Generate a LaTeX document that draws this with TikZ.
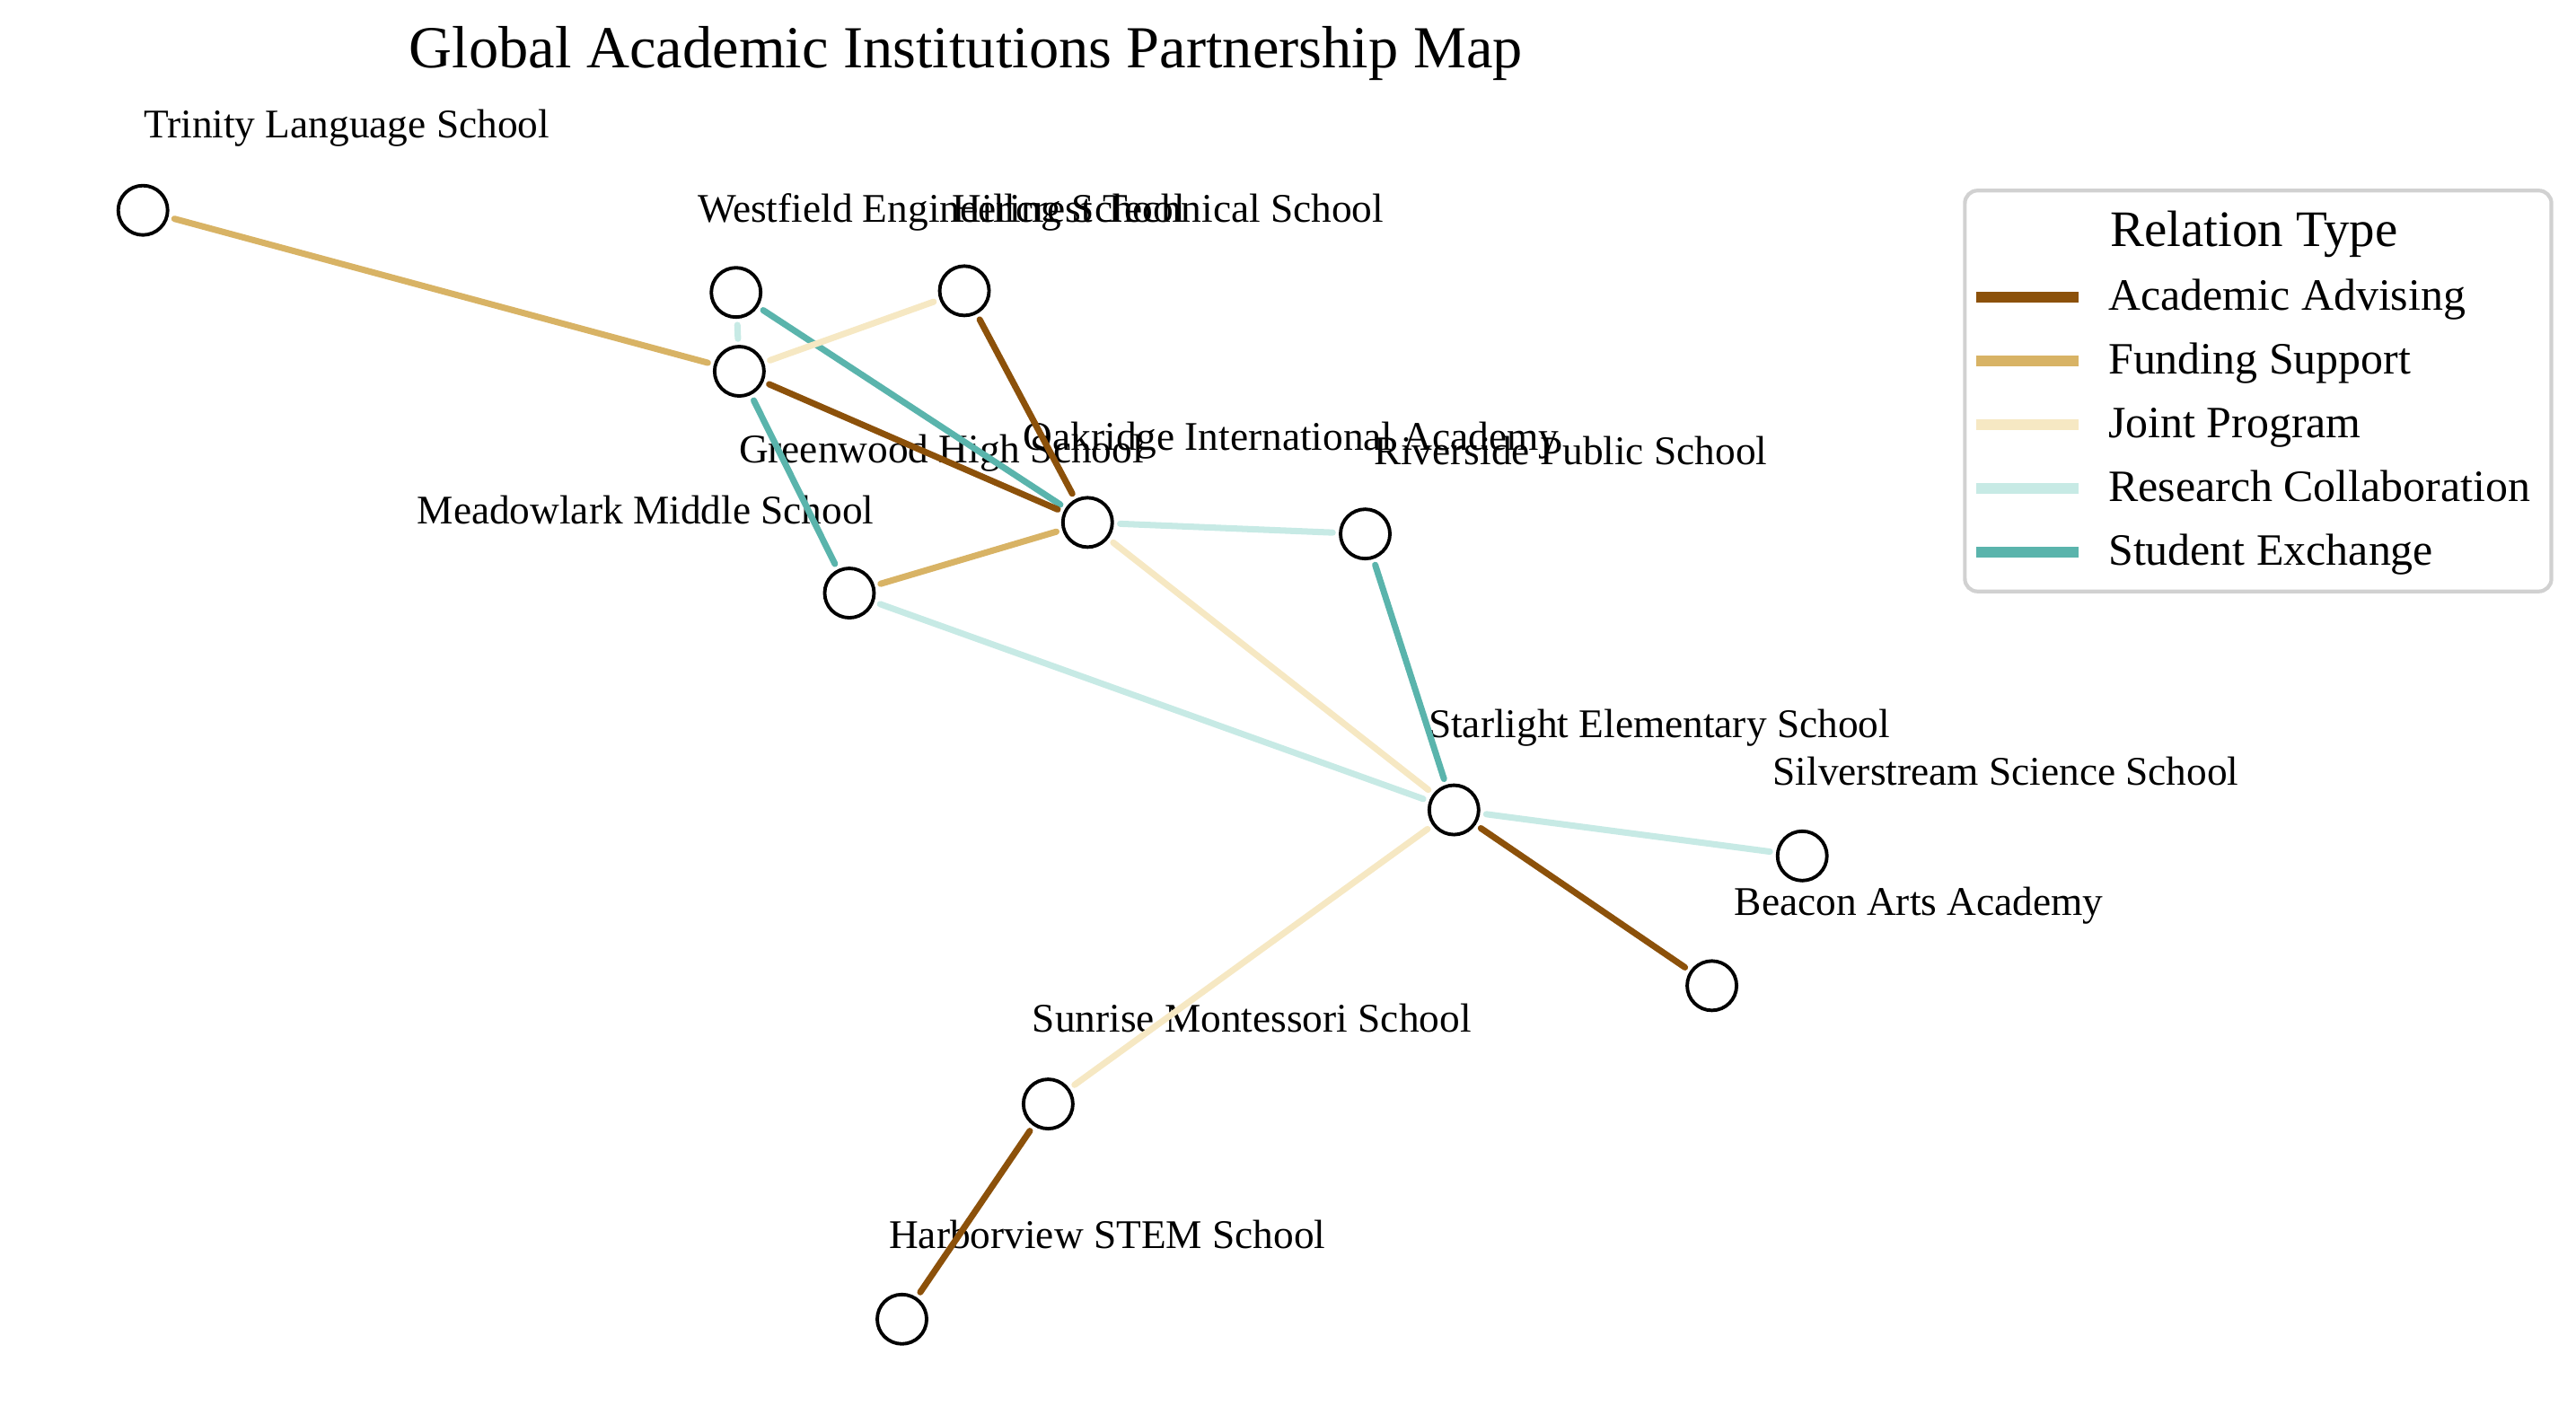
\documentclass[tikz,border=0pt]{standalone}
\usepackage{fontspec}
\setmainfont{Liberation Serif}
\usetikzlibrary{positioning}
\definecolor{cAdvising}{HTML}{8C510A}
\definecolor{cFunding}{HTML}{D8B365}
\definecolor{cJoint}{HTML}{F6E8C3}
\definecolor{cResearch}{HTML}{C7EAE5}
\definecolor{cExchange}{HTML}{5AB4AC}

\begin{document}
\begin{tikzpicture}[x=0.018297cm, y=-0.018297cm,
    school/.style={draw, circle, fill=white, line width=1.1pt, minimum size=0.55cm, inner sep=0pt, outer sep=2.5pt},
    lbl/.style={anchor=base, inner sep=0pt, font=\fontsize{12.9}{15}\selectfont},
    link/.style={line width=2pt, line cap=round},
    advising/.style={link, draw=cAdvising},
    funding/.style={link, draw=cFunding},
    joint/.style={link, draw=cJoint},
    research/.style={link, draw=cResearch},
    exchange/.style={link, draw=cExchange},
    legtxt/.style={anchor=base west, inner sep=0pt, font=\fontsize{14.2}{17}\selectfont}]
        \useasboundingbox (0,0) rectangle (1568,861);

        % Title
        \node[anchor=base, inner sep=0pt, font=\fontsize{18.9}{23}\selectfont] (title) at (588,41)
        {Global Academic Institutions Partnership Map};

        % Schools
        \node[school] (trinity) at (87,128) {};
        \node[school] (westfield) at (448,178) {};
        \node[school] (hillcrest) at (587,177) {};
        \node[school] (greenwood) at (450,226) {};
        \node[school] (oakridge) at (662,318) {};
        \node[school] (riverside) at (831,325) {};
        \node[school] (meadowlark) at (517,361) {};
        \node[school] (starlight) at (885,493) {};
        \node[school] (silverstream) at (1097,521) {};
        \node[school] (beacon) at (1042,600) {};
        \node[school] (sunrise) at (638,672) {};
        \node[school] (harborview) at (549,803) {};

        % Names
        \node[lbl] (trinityName) at (211,84) {Trinity Language School};
        \node[lbl] (westfieldName) at (573,135) {Westfield Engineering School};
        \node[lbl] (hillcrestName) at (711,135) {Hillcrest Technical School};
        \node[lbl] (greenwoodName) at (573,282) {Greenwood High School};
        \node[lbl] (oakridgeName) at (786,274) {Oakridge International Academy};
        \node[lbl] (riversideName) at (956,283) {Riverside Public School};
        \node[lbl] (meadowlarkName) at (393,319) {Meadowlark Middle School};
        \node[lbl] (starlightName) at (1010,449) {Starlight Elementary School};
        \node[lbl] (silverstreamName) at (1221,478) {Silverstream Science School};
        \node[lbl] (beaconName) at (1168,557) {Beacon Arts Academy};
        \node[lbl] (sunriseName) at (762,628) {Sunrise Montessori School};
        \node[lbl] (harborviewName) at (674,760) {Harborview STEM School};

        % Partnerships
        \draw[funding] (trinity) -- (greenwood);
        \draw[research] (westfield) -- (greenwood);
        \draw[exchange] (westfield) -- (oakridge);
        \draw[joint] (hillcrest) -- (greenwood);
        \draw[advising] (hillcrest) -- (oakridge);
        \draw[advising] (greenwood) -- (oakridge);
        \draw[exchange] (greenwood) -- (meadowlark);
        \draw[funding] (meadowlark) -- (oakridge);
        \draw[research] (meadowlark) -- (starlight);
        \draw[research] (oakridge) -- (riverside);
        \draw[joint] (oakridge) -- (starlight);
        \draw[exchange] (riverside) -- (starlight);
        \draw[research] (starlight) -- (silverstream);
        \draw[advising] (starlight) -- (beacon);
        \draw[joint] (starlight) -- (sunrise);
        \draw[advising] (sunrise) -- (harborview);

        % Legend
        \draw[rounded corners=4pt, draw=black!18, line width=1.2pt] (1196,116) rectangle (1553,360);
        \node[anchor=base, inner sep=0pt, font=\fontsize{16.2}{19}\selectfont] (legendTitle) at (1372,150) {Relation Type};
        \foreach \i/\col/\txt in {0/cAdvising/Academic Advising, 1/cFunding/Funding Support,
                2/cJoint/Joint Program, 3/cResearch/Research Collaboration, 4/cExchange/Student Exchange} {
            \pgfmathsetmacro\yy{181+38.75*\i}
            \draw[line width=3.4pt, draw=\col] (1203,\yy) -- (1265,\yy);
            \node[legtxt] at (1283,\yy+8) {\txt};
        }
      \end{tikzpicture}
\end{document}
